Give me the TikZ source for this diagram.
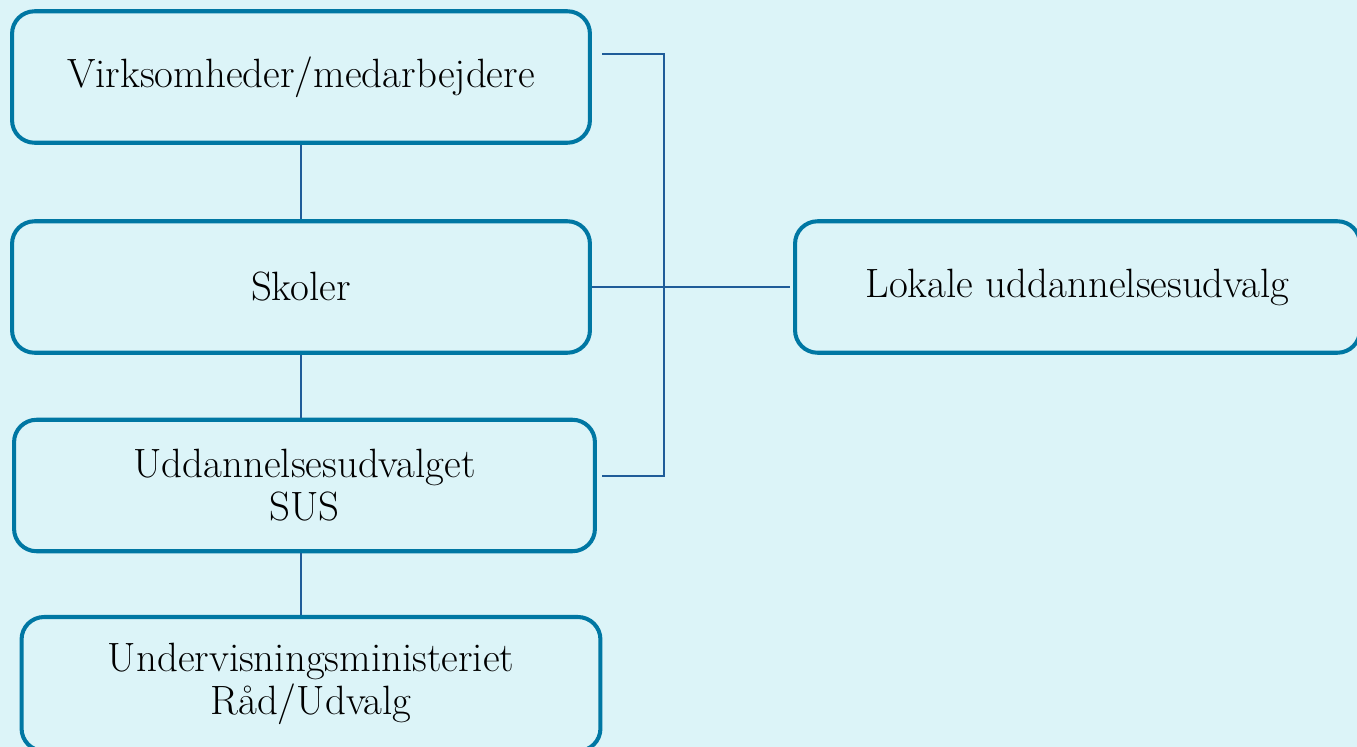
\documentclass[tikz,border=0pt]{standalone}
\usepackage{tikz}
\usetikzlibrary{positioning}
\definecolor{bgcol}{HTML}{DCF4F8}
\definecolor{boxcol}{HTML}{0077A3}
\definecolor{linkcol}{HTML}{1F5C99}
\tikzset{
    unit/.style={draw=boxcol, line width=2.3pt, rounded corners=0.45cm,
        align=center, text=black, font=\fontsize{23.3}{24.5}\selectfont,
        minimum height=2.63cm, inner sep=0pt},
    link/.style={draw=linkcol, line width=0.85pt}
}
\begin{document}
\begin{tikzpicture}[x=0.02cm, y=-0.02cm]
        % Background
        \fill[bgcol] (0,0) rectangle (1357,747);
        \useasboundingbox (0,0) rectangle (1357,747);

        % Boxes
        \node[unit, minimum width=11.56cm] (vk) at (301,77) {Virksomheder/medarbejdere};
        \node[unit, minimum width=11.56cm] (sk) at (301,287) {Skoler};
        \node[unit, minimum width=11.62cm] (sus) at (304.5,485.5) {Uddannelsesudvalget\\SUS};
        \node[unit, minimum width=11.58cm, minimum height=2.68cm] (uvm) at (311,684) {Undervisningsministeriet\\R\aa d/Udvalg};
        \node[unit, minimum width=11.3cm] (lok) at (1077.5,287) {Lokale uddannelsesudvalg};

        % Bracket points
        \coordinate (brtop) at (602,54);
        \coordinate (brbot) at (602,476);
        \coordinate (brx) at (664,0);

        % Links
        \draw[link] (vk.south) -- (sk.north);
        \draw[link] (sk.south) -- (sk.south |- sus.north);
        \draw[link] (sk.south |- sus.south) -- (sk.south |- uvm.north);
        \draw[link] (brtop) -- (brtop -| brx) -- (brbot -| brx) -- (brbot);
        \draw[link, shorten >=2pt] (sk.east) -- (lok.west);

    \end{tikzpicture}
\end{document}
